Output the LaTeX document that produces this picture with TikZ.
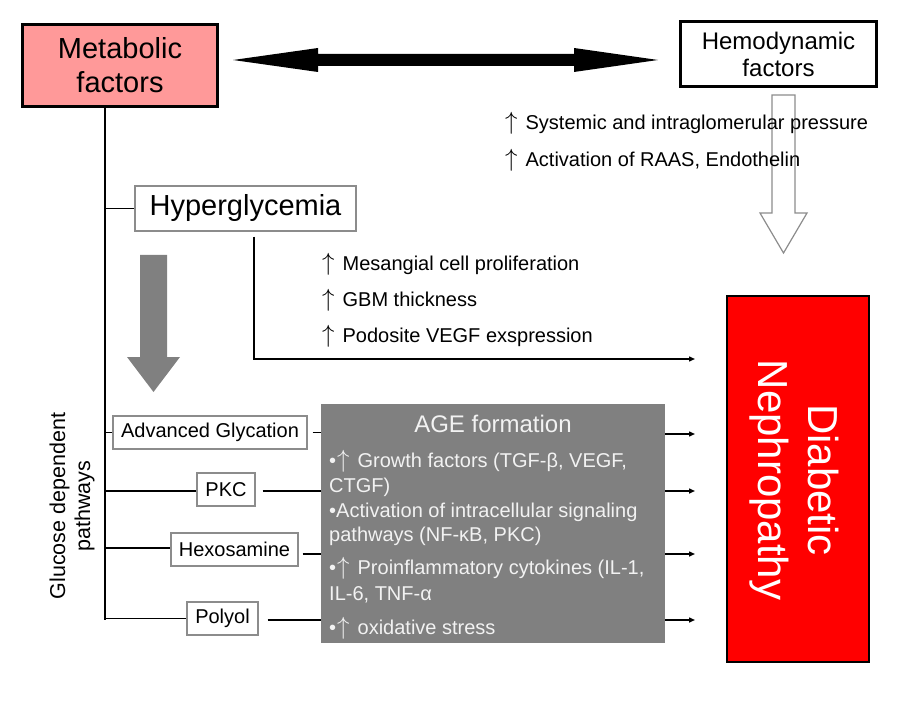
\documentclass[tikz,border=0pt]{standalone}
\usepackage{fontspec}
\setmainfont{Liberation Sans}
\usetikzlibrary{arrows.meta}
\definecolor{pinkbox}{RGB}{255,153,153}
\definecolor{agegray}{RGB}{128,128,128}
\definecolor{boxgray}{RGB}{140,140,140}
\definecolor{agetext}{RGB}{242,242,242}
\definecolor{dnred}{RGB}{255,0,0}
\newcommand{\myup}{{\fontsize{24}{24}\selectfont$\uparrow$}\hspace{8pt}}
\begin{document}
\begin{tikzpicture}[x=1pt,y=-1pt,
  bigbox/.style={draw=black, line width=3pt, inner sep=0pt, align=center},
  pathbox/.style={draw=boxgray, line width=1.2pt, fill=white, inner sep=0pt, minimum height=33pt, font=\fontsize{20}{24}\selectfont},
  conn/.style={line width=1.4pt},
  arr/.style={conn, -{Triangle[length=6pt,width=5pt]}},
  txt/.style={anchor=base west, inner sep=0pt, font=\fontsize{20}{24}\selectfont},
  agetxt/.style={txt, text=agetext}]
\useasboundingbox (0,0) rectangle (899,719);

% top boxes
\node[bigbox, fill=pinkbox, minimum width=195pt, minimum height=82pt, font=\fontsize{29}{34}\selectfont] (meta) at (120,65.5) {Metabolic\\factors};
\node[bigbox, fill=white, minimum width=196pt, minimum height=65pt, font=\fontsize{24}{27}\selectfont] (hemo) at (778.5,54) {Hemodynamic\\factors};

% double block arrow
\fill[black] (233,60) -- (318,48) -- (318,54) -- (574,54) -- (574,48) -- (658,60) -- (574,72) -- (574,66) -- (318,66) -- (318,72) -- cycle;

% hollow arrow
\draw[draw=boxgray, line width=1.2pt] (772,95) -- (795,95) -- (795,213) -- (807,213) -- (783.5,253) -- (760,213) -- (772,213) -- cycle;

% hemodynamic effects
\node[txt] (sys) at (505,130) {\myup Systemic and intraglomerular pressure};
\node[txt] (raas) at (505,167) {\myup Activation of RAAS, Endothelin};

% hyperglycemia
\node[draw=boxgray, line width=1.5pt, fill=white, minimum width=221pt, minimum height=45pt, inner sep=0pt, font=\fontsize{29}{34}\selectfont] (hyper) at (245.5,208.5) {Hyperglycemia};

\coordinate (vbot) at (105,620);
\draw[conn] (meta.south -| vbot) -- (vbot);
\draw[conn] (hyper.west -| vbot) -- (hyper.west);

\coordinate (hypend) at (695,359);
\draw[arr] ([xshift=8.5pt,yshift=-5pt]hyper.south) |- (hypend);

\node[txt] (mes) at (322,270) {\myup Mesangial cell proliferation};
\node[txt] (gbm) at (322,306) {\myup GBM thickness};
\node[txt] (pod) at (322,342) {\myup Podosite VEGF exspression};

% big gray arrow
\fill[agegray] (140,255) -- (167,255) -- (167,357) -- (180,357) -- (153.5,392) -- (127,357) -- (140,357) -- cycle;

% glucose dependent pathways
\node[rotate=90, align=center, inner sep=0pt, font=\fontsize{21.5}{25}\selectfont] (gdp) at (72,506) {Glucose dependent\\pathways};

\node[pathbox, minimum width=194pt] (adv) at (210,432.5) {Advanced Glycation};
\node[pathbox, minimum width=58pt] (pkc) at (226,489.5) {PKC};
\node[pathbox, minimum width=127pt] (hex) at (234.5,549.5) {Hexosamine};
\node[pathbox, minimum width=71pt] (pol) at (222.5,618.5) {Polyol};

\draw[conn] (adv.west -| vbot) -- (adv.west);
\draw[conn] ([yshift=-1.5pt]pkc.west -| vbot) -- ([yshift=-1.5pt]pkc.west);
\draw[conn] ([yshift=1.5pt]hex.west -| vbot) -- ([yshift=1.5pt]hex.west);
\draw[conn] (pol.west -| vbot) -- (pol.west);

% AGE box
\node[fill=agegray, minimum width=344pt, minimum height=239pt, inner sep=0pt] (age) at (493,523.5) {};

\draw[conn] ([xshift=5pt]adv.east) -- (adv.east -| age.west);
\draw[conn] ([xshift=7pt,yshift=-1.5pt]pkc.east) -- ([yshift=-1.5pt]pkc.east -| age.west);
\draw[conn] ([xshift=4pt,yshift=-4.5pt]hex.east) -- ([yshift=-4.5pt]hex.east -| age.west);
\draw[conn] ([xshift=9pt,yshift=-1.5pt]pol.east) -- ([yshift=-1.5pt]pol.east -| age.west);

\node[anchor=base, inner sep=0pt, text=agetext, font=\fontsize{24}{28}\selectfont] (agetitle) at (493,432) {AGE formation};
\node[agetxt] (a1) at (329,467) {•\hspace{1pt}\myup Growth factors (TGF-β, VEGF,};
\node[agetxt] (a2) at (329,492) {CTGF)};
\node[agetxt] (a3) at (329,517) {•Activation of intracellular signaling};
\node[agetxt] (a4) at (329,541) {pathways (NF-κB, PKC)};
\node[agetxt] (a5) at (329,574) {•\hspace{1pt}\myup Proinflammatory cytokines (IL-1,};
\node[agetxt] (a6) at (329,600) {IL-6, TNF-α};
\node[agetxt] (a7) at (329,634) {•\hspace{1pt}\myup oxidative stress};

\coordinate (o1) at (695,434);
\coordinate (o2) at (695,491);
\coordinate (o3) at (695,554);
\coordinate (o4) at (695,620);
\draw[arr] (age.east |- o1) -- (o1);
\draw[arr] (age.east |- o2) -- (o2);
\draw[arr] (age.east |- o3) -- (o3);
\draw[arr] (age.east |- o4) -- (o4);

% diabetic nephropathy
\node[draw=black, line width=2pt, fill=dnred, minimum width=142pt, minimum height=366pt, inner sep=0pt] (dn) at (798,479) {};
\node[rotate=-90, align=center, inner sep=0pt, text=white, font=\fontsize{42}{50}\selectfont] (dntext) at (794,480) {Diabetic\\Nephropathy};
\end{tikzpicture}
\end{document}
